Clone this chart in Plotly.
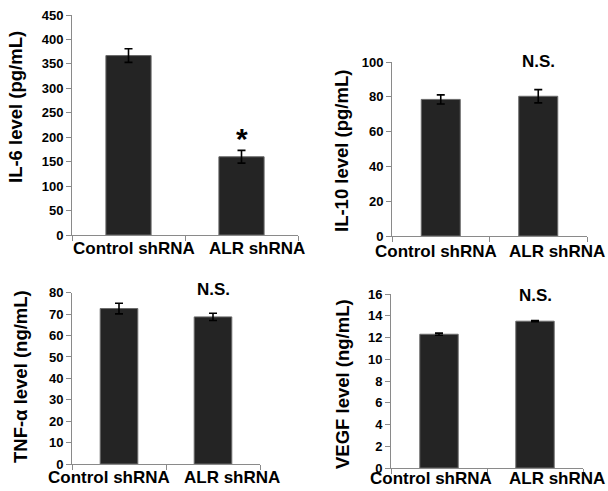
import plotly.graph_objects as go

# ---- data ----
categories = ["Control shRNA", "ALR shRNA"]
il6 = [367, 160]
il6_err = [14, 13]
il10 = [78.5, 80.3]
il10_err = [2.6, 3.8]
tnf = [72.6, 68.7]
tnf_err = [2.5, 1.7]
vegf = [12.3, 13.5]
vegf_err = [0.1, 0.05]

y_titles = ["IL-6 level (pg/mL)", "IL-10 level (pg/mL)", "TNF-α level (ng/mL)", "VEGF level (ng/mL)"]
y_ranges = [(0, 450), (0, 100), (0, 80), (0, 16)]
y_dticks = [50, 20, 10, 2]

W, H = 608, 491
# pixel boxes: (x0, x1, ytop, ybottom)
boxes = [(72, 298, 15, 235), (392, 587, 62, 236), (72, 260, 292.7, 464), (391, 583, 294, 468)]
title_pos = [(15, 107), (341, 151), (20, 377), (342, 384)]
# category label offsets (xshift per category, yshift below axis)
label_xshift = [(5, 15), (-5, 19), (-10, 19), (-8, 22)]
label_yshift = [-13, -15, -13, -10]

FONT = "Arial, Liberation Sans, sans-serif"
series = [(il6, il6_err), (il10, il10_err), (tnf, tnf_err), (vegf, vegf_err)]

fig = go.Figure()
layout = dict(width=W, height=H, margin=dict(l=0, r=0, t=0, b=0),
              paper_bgcolor="white", plot_bgcolor="white", showlegend=False,
              font=dict(family=FONT, color="black"))
annotations = []
for i, ((vals, errs), box) in enumerate(zip(series, boxes)):
    sfx = "" if i == 0 else str(i + 1)
    fig.add_trace(go.Bar(
        x=categories, y=vals, width=0.4,
        marker=dict(color="#242424", line=dict(color="#6a6a6a", width=1)),
        error_y=dict(type="data", array=errs, visible=True, color="black", thickness=1.6, width=4),
        xaxis="x" + sfx, yaxis="y" + sfx, cliponaxis=False))
    x0, x1, yt, yb = box
    layout["xaxis" + sfx] = dict(
        domain=[x0 / W, x1 / W], range=[-0.5, 1.5], anchor="y" + sfx,
        showline=True, linecolor="#8a8a8a", linewidth=1,
        ticks="outside", tickson="boundaries", ticklen=5, tickcolor="#8a8a8a",
        showticklabels=False, automargin=False,
        showgrid=False, zeroline=False, fixedrange=True)
    layout["yaxis" + sfx] = dict(
        domain=[1 - yb / H, 1 - yt / H], range=list(y_ranges[i]), anchor="x" + sfx,
        dtick=y_dticks[i], showline=True, linecolor="#8a8a8a", linewidth=1,
        ticks="outside", ticklen=5, tickcolor="#8a8a8a", automargin=False,
        tickfont=dict(size=13, family=FONT, weight="bold", color="black"),
        showgrid=False, zeroline=False, fixedrange=True)
    tx, ty = title_pos[i]
    annotations.append(dict(text=y_titles[i], xref="paper", yref="paper",
                            x=tx / W, y=1 - ty / H, xanchor="center", yanchor="middle",
                            textangle=-90, showarrow=False,
                            font=dict(size=18.5, family=FONT, weight="bold", color="black")))
    for c, cat in enumerate(categories):
        annotations.append(dict(text=cat, xref="x" + sfx, yref="y" + sfx, x=cat, y=0,
                                xshift=label_xshift[i][c], yshift=label_yshift[i],
                                xanchor="center", yanchor="middle", showarrow=False,
                                font=dict(size=17, family=FONT, weight="bold", color="black")))

# significance marks
annotations.append(dict(text="*", xref="x", yref="y", x=categories[1], y=il6[1] + il6_err[1],
                        yshift=12, showarrow=False,
                        font=dict(size=30, family=FONT, weight="bold", color="black")))
for sfx, yv, ysh in [("2", 100, 1), ("3", 80, 3), ("4", 16, -1)]:
    annotations.append(dict(text="N.S.", xref="x" + sfx, yref="y" + sfx, x=categories[1], y=yv,
                            yshift=ysh, showarrow=False,
                            font=dict(size=17, family=FONT, weight="bold", color="black")))

layout["annotations"] = annotations
fig.update_layout(**layout)
fig.write_html("out.html", config={"displayModeBar": False},
               post_script="document.body.style.margin='0';document.body.style.overflow='hidden';")
